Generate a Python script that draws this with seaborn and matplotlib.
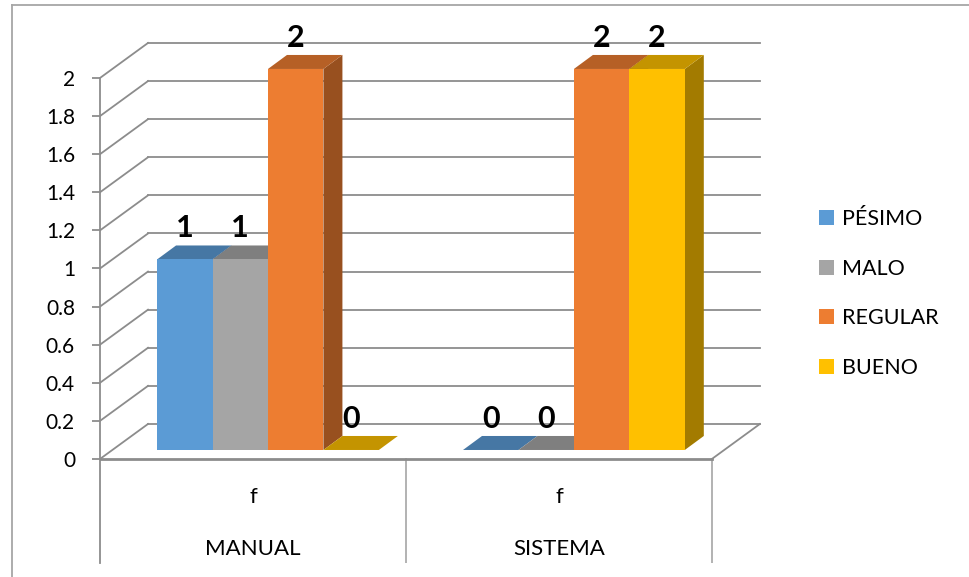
import numpy as np
import pandas as pd
import seaborn as sns
import matplotlib.pyplot as plt
import matplotlib.colors as mcolors
from matplotlib.patches import Polygon, Patch
from matplotlib.lines import Line2D

# datos
grupos = ["MANUAL", "SISTEMA"]
niveles = ["PÉSIMO", "MALO", "REGULAR", "BUENO"]
manual = [1, 1, 2, 0]
sistema = [0, 0, 2, 2]
colores = ["#5B9BD5", "#A5A5A5", "#ED7D31", "#FFC000"]
yticks = [0, 0.2, 0.4, 0.6, 0.8, 1, 1.2, 1.4, 1.6, 1.8, 2]
ylabels = ["0", "0.2", "0.4", "0.6", "0.8", "1", "1.2", "1.4", "1.6", "1.8", "2"]

df = pd.DataFrame({
    "grupo": np.repeat(grupos, len(niveles)),
    "nivel": niveles * len(grupos),
    "f": manual + sistema,
})

plt.rcParams["font.family"] = ["Lato", "DejaVu Sans"]
GRID = "#8C8C8C"

fig = plt.figure(figsize=(9.69, 5.77), dpi=100)
ax = fig.add_axes([100 / 969, 14 / 577, 670 / 969, 558 / 577])
sns.barplot(data=df, x="grupo", y="f", hue="nivel", hue_order=niveles,
            palette=colores, saturation=1, width=0.725, gap=0,
            errorbar=None, legend=False, edgecolor="none", linewidth=0, ax=ax)
ax.set_xlim(-0.5, 1.69)
ax.set_ylim(-0.546, 2.383)
ax.set_xlabel("")
ax.set_ylabel("")

# pixels -> data units (axes position is fixed)
x0, y0 = ax.transData.transform((0, 0))
x1, y1 = ax.transData.transform((1, 1))
px = 1 / (x1 - x0)
py = 1 / (y1 - y0)

WALL = (48 * px, 35 * py)     # back wall depth
BAR_OFF = (15 * px, 9 * py)   # bar front face
BAR_D = (19 * px, 14 * py)    # bar depth

# walls and gridlines
for t in yticks:
    ax.plot([-0.5, -0.5 + WALL[0]], [t, t + WALL[1]], color=GRID, lw=1.3, zorder=1)
    ax.plot([-0.5 + WALL[0], 1.5 + WALL[0]], [t + WALL[1]] * 2, color=GRID, lw=1.3, zorder=1)
ax.plot([-0.5, 1.5], [0, 0], color=GRID, lw=2, zorder=2)
ax.plot([1.5, 1.5 + WALL[0]], [0, WALL[1]], color=GRID, lw=1.3, zorder=2)
for xc in [0.5, 1.5]:
    ax.plot([xc, xc], [0, -0.546], color="#A6A6A6", lw=1.2, zorder=1)

# 3d bars
def tono(c, k):
    return tuple(np.array(mcolors.to_rgb(c)) * k)

barras = sorted(ax.patches, key=lambda p: p.get_x())
for i, p in enumerate(barras):
    p.set_x(p.get_x() + BAR_OFF[0])
    p.set_y(BAR_OFF[1])
    x, w, h = p.get_x(), p.get_width(), p.get_height()
    c = p.get_facecolor()
    base = BAR_OFF[1]
    top = base + h
    dx, dy = BAR_D
    side = Polygon([(x + w, base), (x + w, top), (x + w + dx, top + dy), (x + w + dx, base + dy)],
                   closed=True, facecolor=tono(c, 0.64), edgecolor="none", zorder=5 + 3 * i)
    cap = Polygon([(x, top), (x + w, top), (x + w + dx, top + dy), (x + dx, top + dy)],
                  closed=True, facecolor=tono(c, 0.77), edgecolor="none", zorder=6 + 3 * i)
    ax.add_patch(side)
    ax.add_patch(cap)
    p.set_zorder(7 + 3 * i)
    ax.annotate(f"{h:g}", xy=(x + w / 2, top), xytext=(0, 22), textcoords="offset pixels",
                ha="center", va="baseline", fontsize=22, fontweight="bold", zorder=100)

# axes decorations
ax.set_yticks(yticks, ylabels)
ax.tick_params(axis="y", length=6, width=1.3, color=GRID, pad=12, labelsize=15)
ax.set_xticks([])
for s in ["top", "right", "bottom"]:
    ax.spines[s].set_visible(False)
ax.spines["left"].set_bounds(-0.546, 2)
ax.spines["left"].set_color(GRID)
ax.spines["left"].set_linewidth(1.3)
ax.patch.set_alpha(0)

for i, g in enumerate(grupos):
    ax.text(i, -0.231, "f", ha="center", va="baseline", fontsize=16)
    ax.text(i, -0.504, g, ha="center", va="baseline", fontsize=16)

handles = [Patch(facecolor=c, edgecolor="none") for c in colores]
ax.legend(handles, niveles, loc="center left", bbox_to_anchor=(819 / 969, 1 - 293.5 / 577),
          bbox_transform=fig.transFigure, frameon=False, fontsize=15.5,
          handlelength=0.7, handleheight=0.7, handletextpad=0.35,
          labelspacing=1.37, borderpad=0, borderaxespad=0)

# outer chart border (only top and left are visible)
fig.add_artist(Line2D([12 / 969, 12 / 969], [0, 572 / 577], transform=fig.transFigure,
                      color="#A6A6A6", lw=1.3))
fig.add_artist(Line2D([12 / 969, 1], [572 / 577, 572 / 577], transform=fig.transFigure,
                      color="#A6A6A6", lw=1.3))

fig.savefig("out.png", dpi=100)
